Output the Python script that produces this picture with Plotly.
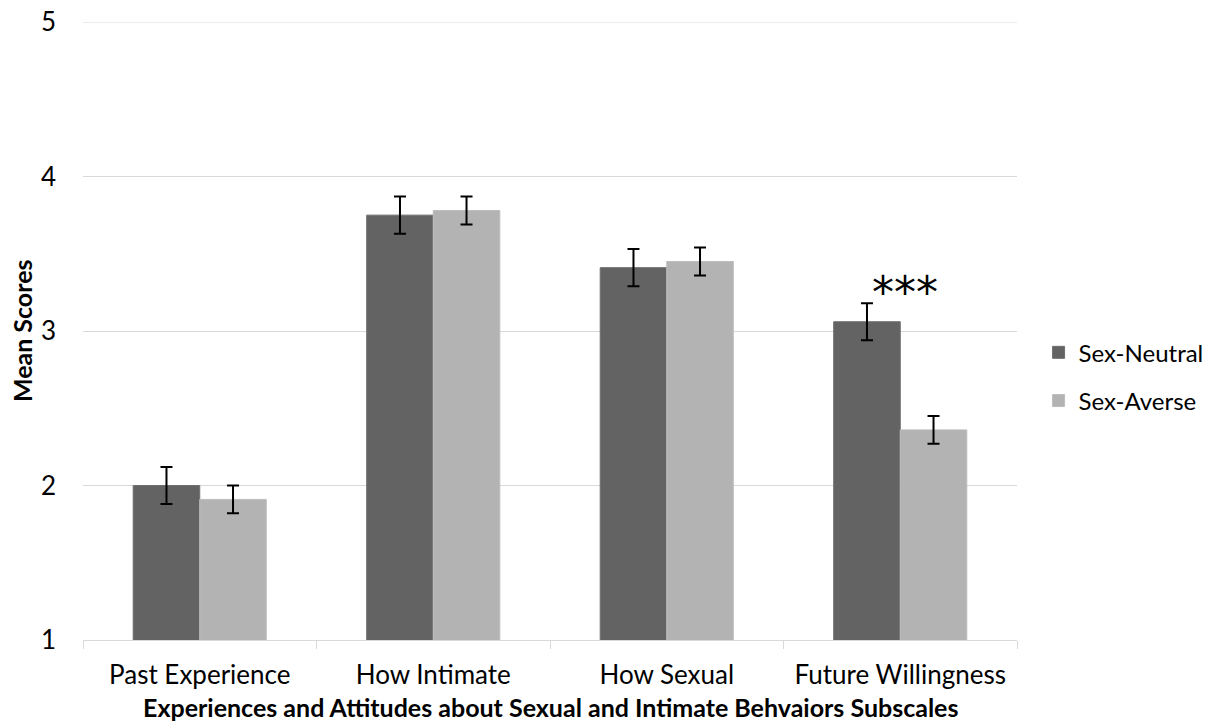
import plotly.graph_objects as go

categories = ["Past Experience", "How Intimate", "How Sexual", "Future Willingness"]
neutral = [2.00, 3.75, 3.41, 3.06]
neutral_err = [0.12, 0.12, 0.12, 0.12]
averse = [1.91, 3.78, 3.45, 2.36]
averse_err = [0.09, 0.09, 0.09, 0.09]
y_ticks = [1, 2, 3, 4, 5]

FONT = "Lato"
FS = 26
GRID = "#d9d9d9"

fig = go.Figure()
fig.add_trace(go.Bar(
    name="Sex-Neutral", x=categories, y=neutral, legendgroup="a",
    marker=dict(color="#636363", line=dict(color="#6e6e6e", width=1)),
    error_y=dict(type="data", array=neutral_err, color="black", thickness=2, width=6),
))
fig.add_trace(go.Bar(
    name="Sex-Averse", x=categories, y=averse, legendgroup="b",
    marker=dict(color="#b3b3b3", line=dict(color="#bdbdbd", width=1)),
    error_y=dict(type="data", array=averse_err, color="black", thickness=2, width=6),
))

# top gridline (plotly skips the grid line lying on the plot edge)
fig.add_shape(type="line", xref="paper", x0=0, x1=1, yref="y",
              y0=y_ticks[-1], y1=y_ticks[-1], line=dict(color=GRID, width=1), layer="below")

fig.add_annotation(x="Future Willingness", y=3.30, text="***", showarrow=False,
                   font=dict(family="DejaVu Sans", size=44, color="black"),
                   xshift=5, yshift=-8)

fig.add_annotation(xref="paper", yref="paper", x=0.5, y=-0.108, yanchor="middle",
                   text="<b>Experiences and Attitudes about Sexual and Intimate Behvaiors Subscales</b>",
                   showarrow=False, font=dict(family=FONT, size=25, color="black"))

fig.add_annotation(xref="paper", yref="paper", x=-0.0652, y=0.5, xanchor="center",
                   yanchor="middle", textangle=-90,
                   text="<b>Mean Scores</b>",
                   showarrow=False, font=dict(family=FONT, size=25, color="black"))

fig.update_layout(
    width=1220, height=725,
    paper_bgcolor="white", plot_bgcolor="white",
    barmode="group", bargap=0.43, bargroupgap=0,
    margin=dict(l=83, r=202, t=22, b=85),
    font=dict(family=FONT, size=FS, color="black"),
    legend=dict(x=1.022, y=0.426, yanchor="middle", xanchor="left",
                font=dict(family=FONT, size=24), itemwidth=30,
                tracegroupgap=14, traceorder="grouped"),
    xaxis=dict(
        showline=True, linecolor=GRID, linewidth=1,
        ticks="outside", tickson="boundaries", ticklen=8, tickcolor=GRID,
        showgrid=False, tickfont=dict(family=FONT, size=FS),
        ticklabelstandoff=12, automargin=False,
    ),
    yaxis=dict(
        range=[y_ticks[0], y_ticks[-1]], tickvals=y_ticks, showgrid=True, gridcolor=GRID, gridwidth=1,
        showline=False, zeroline=False, ticks="", tickfont=dict(family=FONT, size=FS),
        ticklabelstandoff=26, automargin=False,
    ),
)

fig.write_html("out.html", config={"displayModeBar": False},
               post_script="document.body.style.margin='0px';")
